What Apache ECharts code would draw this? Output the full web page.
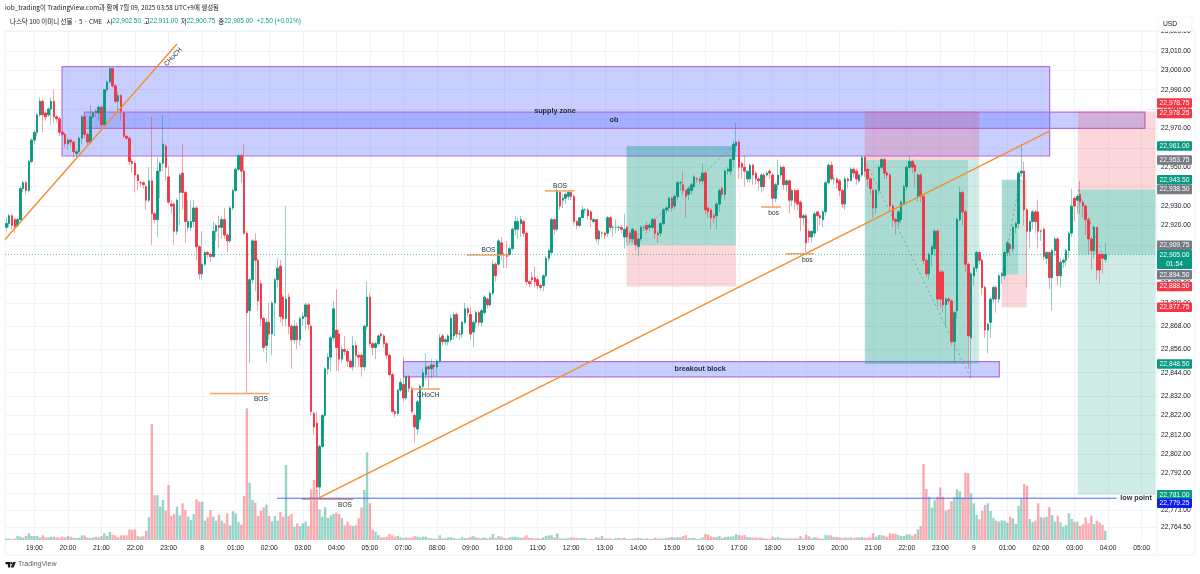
<!DOCTYPE html>
<html lang="ko">
<head>
<meta charset="utf-8">
<title>나스닥 100 이미니 선물</title>
<script src="https://cdn.jsdelivr.net/npm/echarts@6/dist/echarts.min.js"></script>
<style>
html, body { margin: 0; padding: 0; background: #fff; }
#chart { width: 1200px; height: 574px; }
</style>
</head>
<body>
<div id="chart"></div>
<script>
// 5 minute bars, one line per hour, first line starts at 18:10
var opens = [
22919,22921,22925,22923,22920,22923,22939,22942,22938,22953,
22964,22968,22977,22984,22978,22977,22980,22984,22976,22975,22968,22967,
22962,22964,22963,22957,22958,22965,22976,22967,22963,22976,22979,22978,
22981,22972,22990,22994,23001,22992,22984,22987,22978,22966,22965,22953,
22952,22946,22942,22942,22940,22933,22943,22926,22923,22948,22952,22961,
22945,22931,22931,22917,22937,22947,22937,22919,22919,22922,22929,22909,
22895,22900,22906,22905,22904,22917,22920,22919,22923,22915,22912,22929,
22938,22949,22956,22948,22916,22876,22892,22912,22902,22890,22872,22858,
22870,22864,22880,22892,22899,22883,22872,22883,22868,22861,22868,22861,
22872,22873,22879,22868,22823,22818,22785,22806,22822,22846,22852,22862,
22866,22864,22851,22856,22855,22850,22847,22858,22853,22853,22847,22868,
22883,22859,22857,22859,22864,22863,22859,22853,22843,22824,22823,22835,
22838,22831,22842,22836,22822,22815,22820,22837,22843,22847,22846,22848,
22847,22850,22863,22860,22860,22861,22863,22874,22864,22864,22870,22877,
22874,22865,22870,22875,22870,22875,22882,22879,22885,22900,22900,22911,
22905,22905,22905,22908,22918,22918,22921,22922,22916,22891,22893,22893,
22892,22889,22889,22894,22903,22906,22923,22918,22937,22933,22934,22935,
22937,22935,22922,22920,22924,22928,22928,22927,22922,22923,22913,22916,
22916,22916,22924,22919,22919,22919,22919,22914,22919,22916,22913,22917,
22909,22913,22919,22920,22919,22919,22923,22916,22916,22921,22928,22929,
22934,22930,22935,22942,22941,22938,22936,22938,22940,22944,22944,22943,
22947,22929,22928,22925,22925,22931,22939,22936,22948,22948,22954,22961,
22963,22952,22950,22944,22944,22951,22947,22944,22940,22946,22946,22948,
22946,22934,22941,22946,22950,22941,22943,22933,22938,22938,22932,22924,
22925,22917,22914,22916,22927,22925,22923,22927,22942,22951,22944,22944,
22943,22938,22931,22944,22943,22949,22948,22943,22946,22955,22949,22944,
22938,22929,22938,22950,22954,22947,22946,22930,22923,22922,22923,22931,
22940,22950,22953,22951,22935,22946,22935,22902,22895,22905,22908,22917,
22896,22896,22879,22882,22881,22860,22876,22923,22937,22927,22900,22862,
22894,22898,22906,22902,22888,22866,22870,22882,22888,22882,22894,22894,
22906,22910,22908,22919,22921,22947,22948,22928,22917,22922,22927,22927,
22917,22918,22903,22906,22893,22907,22913,22894,22901,22902,22907,22916,
22934,22933,22936,22932,22930,22923,22913,22907,22919,22905,22905,22902.5
];
var closes = [
22921,22925,22920,22919,22923,22939,22942,22938,22953,22964,
22968,22977,22984,22977,22976,22980,22984,22976,22975,22968,22967,22962,
22964,22963,22958,22958,22965,22976,22967,22963,22976,22978,22978,22981,
22972,22990,22994,23001,22992,22984,22987,22979,22966,22965,22953,22952,
22946,22943,22942,22941,22933,22943,22926,22923,22948,22952,22962,22950,
22932,22930,22917,22933,22946,22937,22922,22922,22922,22929,22909,22895,
22900,22906,22905,22904,22917,22920,22919,22923,22915,22912,22929,22938,
22949,22956,22948,22916,22875,22892,22912,22902,22881,22872,22857,22870,
22864,22880,22892,22898,22873,22872,22882,22868,22861,22868,22861,22872,
22873,22879,22869,22824,22816,22785,22806,22822,22846,22852,22862,22877,
22857,22851,22856,22855,22850,22847,22858,22853,22852,22847,22868,22883,
22859,22857,22859,22863,22863,22859,22853,22843,22824,22823,22835,22839,
22831,22842,22836,22824,22816,22829,22837,22844,22847,22846,22848,22847,
22850,22862,22860,22861,22863,22872,22874,22864,22864,22870,22877,22875,
22864,22870,22875,22870,22876,22883,22879,22885,22900,22894,22912,22905,
22905,22904,22908,22918,22922,22922,22923,22916,22891,22890,22892,22891,
22889,22888,22894,22903,22907,22923,22918,22938,22930,22934,22936,22937,
22935,22922,22920,22924,22928,22928,22925,22923,22923,22913,22917,22916,
22915,22924,22919,22919,22919,22919,22918,22918,22914,22913,22918,22910,
22913,22919,22919,22918,22920,22923,22916,22915,22921,22928,22929,22934,
22929,22935,22942,22942,22938,22935,22939,22941,22945,22944,22943,22947,
22928,22927,22924,22924,22931,22938,22936,22948,22949,22954,22962,22963,
22950,22950,22948,22948,22951,22946,22944,22943,22946,22940,22947,22947,
22934,22941,22946,22950,22941,22943,22933,22938,22932,22931,22924,22925,
22911,22914,22917,22926,22925,22924,22927,22942,22951,22944,22944,22942,
22938,22931,22944,22943,22949,22947,22944,22946,22955,22948,22944,22939,
22929,22938,22950,22954,22947,22946,22930,22923,22922,22927,22932,22940,
22950,22953,22950,22948,22946,22935,22902,22895,22905,22909,22917,22882,
22882,22879,22882,22881,22860,22875,22923,22937,22927,22900,22863,22895,
22898,22906,22902,22888,22866,22869,22882,22888,22882,22894,22895,22906,
22911,22908,22919,22921,22947,22948,22928,22917,22922,22927,22922,22917,
22917,22904,22906,22893,22907,22913,22894,22901,22902,22907,22916,22930,
22930,22935,22932,22930,22923,22913,22907,22919,22897,22897,22903,22905
];
var lows = [
22917,22919,22918,22916,22919,22922,22937,22936,22937,22952,
22962,22966,22976,22968,22974,22976,22972,22973,22973,22966,22966,22960,
22959,22961,22955,22955,22957,22962,22965,22961,22962,22975,22976,22974,
22971,22971,22989,22993,22991,22983,22978,22974,22965,22964,22951,22947,
22937,22938,22940,22939,22928,22932,22910,22921,22914,22934,22948,22943,
22931,22926,22910,22915,22920,22928,22911,22917,22917,22919,22902,22892,
22892,22899,22903,22901,22903,22912,22908,22913,22913,22906,22911,22928,
22937,22948,22942,22915,22833,22849,22890,22886,22876,22868,22855,22849,
22861,22853,22863,22888,22870,22868,22868,22864,22846,22859,22856,22858,
22868,22866,22866,22822,22812,22783,22780,22805,22821,22843,22845,22860,
22845,22845,22849,22853,22847,22846,22845,22847,22847,22842,22845,22866,
22857,22853,22851,22858,22861,22857,22851,22842,22823,22821,22822,22834,
22829,22830,22834,22823,22808,22812,22818,22836,22840,22836,22841,22842,
22842,22849,22858,22858,22858,22860,22861,22862,22861,22862,22869,22873,
22861,22857,22867,22868,22868,22874,22877,22878,22884,22891,22899,22902,
22898,22898,22904,22907,22915,22913,22914,22914,22889,22888,22889,22888,
22887,22886,22886,22893,22901,22905,22915,22917,22928,22929,22931,22933,
22933,22920,22918,22919,22924,22926,22923,22919,22921,22911,22910,22914,
22913,22914,22917,22914,22916,22917,22916,22908,22911,22911,22911,22907,
22904,22912,22917,22916,22917,22918,22913,22911,22914,22920,22926,22927,
22927,22928,22933,22938,22936,22924,22933,22936,22939,22942,22941,22941,
22926,22924,22918,22921,22918,22927,22934,22933,22946,22946,22950,22958,
22944,22944,22940,22942,22942,22941,22941,22938,22937,22938,22945,22944,
22929,22932,22938,22944,22938,22937,22926,22930,22928,22928,22917,22920,
22906,22911,22911,22914,22917,22920,22919,22925,22941,22943,22941,22939,
22935,22929,22928,22939,22943,22945,22941,22942,22945,22945,22940,22936,
22924,22926,22936,22949,22944,22944,22928,22919,22915,22919,22921,22930,
22938,22949,22947,22940,22932,22932,22900,22893,22892,22899,22904,22878,
22878,22875,22868,22879,22858,22849,22872,22922,22920,22896,22846,22841,
22889,22896,22900,22884,22862,22854,22862,22880,22875,22880,22890,22892,
22904,22904,22906,22916,22918,22945,22920,22888,22908,22918,22916,22908,
22912,22902,22900,22887,22876,22904,22889,22888,22898,22899,22903,22914,
22922,22926,22926,22924,22915,22905,22897,22903,22892,22890,22895,22900.75
];
var highs = [
22924,22926,22926,22924,22924,22940,22943,22943,22954,22965,
22969,22978,22986,22985,22979,22981,22986,22990,22977,22976,22969,22968,
22965,22965,22964,22959,22966,22977,22977,22968,22982,22979,22980,22982,
22982,22990,22995,23001.5,23001,22993,22989,22988,22979,22967,22966,22954,
22953,22947,22943,22943,22941,22950,22976,22927,22955,22953,22977,22962,
22951,22933,22932,22934,22947,22962,22938,22933,22933,22933,22930,22910,
22917,22907,22907,22906,22922,22921,22925,22925,22929,22916,22930,22939,
22950,22957,22957,22962,22917,22893,22913,22916,22903,22892,22873,22872,
22880,22881,22893,22903,22902,22884,22930,22885,22869,22871,22870,22873,
22875,22880,22880,22869,22824,22824,22807,22823,22847,22854,22863,22881,
22887,22866,22858,22863,22856,22851,22863,22860,22854,22854,22869,22891,
22885,22860,22860,22864,22865,22864,22860,22854,22844,22825,22836,22841,
22852,22843,22843,22837,22823,22830,22838,22846,22854,22848,22851,22849,
22851,22864,22864,22862,22864,22874,22875,22875,22866,22871,22880,22878,
22878,22871,22876,22876,22877,22884,22883,22886,22902,22901,22913,22914,
22906,22912,22909,22919,22925,22924,22925,22923,22917,22892,22896,22899,
22893,22890,22895,22904,22908,22924,22924,22939,22938,22936,22937,22938,
22938,22936,22923,22922,22930,22929,22929,22928,22924,22923,22918,22917,
22917,22925,22925,22920,22923,22920,22920,22926,22920,22917,22919,22918,
22914,22920,22920,22922,22921,22924,22924,22917,22922,22929,22930,22935,
22935,22936,22943,22943,22948,22938,22940,22942,22946,22945,22945,22952,
22948,22930,22929,22926,22932,22939,22940,22949,22950,22955,22964,22973,
22964,22953,22956,22948,22952,22952,22948,22945,22947,22947,22948,22949,
22947,22942,22954,22951,22951,22944,22944,22939,22939,22939,22933,22926,
22926,22918,22917,22927,22927,22926,22928,22943,22952,22953,22946,22945,
22944,22939,22945,22945,22950,22950,22949,22947,22956,22956,22950,22945,
22939,22939,22951,22955,22955,22948,22947,22931,22924,22928,22933,22941,
22951,22956,22954,22952,22947,22947,22936,22903,22906,22910,22918,22918,
22897,22897,22883,22883,22882,22876,22924,22940,22938,22928,22901,22896,
22899,22907,22907,22903,22889,22870,22883,22889,22889,22895,22896,22907,
22912,22911,22920,22922,22948,22962,22953,22929,22923,22928,22928,22933,
22918,22919,22907,22907,22908,22914,22914,22903,22903,22908,22917,22939,
22935,22936,22943,22933,22931,22924,22914,22920,22919,22906,22906,22911
];
var volumes = [
4,4,3,4,12,10,7,12,20,12,
12,12,8,14,8,8,10,10,8,7,10,8,
12,10,7,6,7,14,14,8,6,8,10,8,
12,20,12,24,16,14,8,14,14,14,32,30,
32,12,10,12,28,68,348,134,135,100,120,88,
165,72,78,100,74,110,90,70,60,78,122,115,
115,58,68,90,70,58,76,58,50,80,44,86,
80,54,46,132,395,172,120,112,72,88,98,106,
72,56,72,58,84,70,225,72,78,40,50,42,
50,55,42,152,180,150,92,70,98,66,74,78,
82,78,66,44,55,44,42,44,65,98,150,263,
110,30,25,15,8,8,10,18,14,10,12,8,
6,8,6,8,12,10,8,10,10,6,5,4,
4,14,5,5,8,8,6,4,5,8,6,6,
10,12,8,6,6,8,5,8,18,6,12,10,
6,5,8,10,10,8,6,8,14,6,6,4,
6,4,8,12,14,14,8,20,5,4,5,6,
8,7,6,5,6,5,3,3,3,8,6,12,
4,5,5,3,5,6,5,7,3,3,4,5,
6,5,4,5,3,3,7,5,5,4,6,7,
9,7,9,8,12,14,6,6,6,3,4,8,
18,16,11,9,9,12,6,9,10,10,11,18,
15,13,15,9,8,7,8,7,7,5,4,4,
10,7,8,6,5,5,5,4,5,5,12,5,
16,11,5,9,7,5,4,15,14,14,9,9,
8,6,8,7,8,6,8,8,9,7,7,8,
20,10,15,15,13,10,20,19,19,15,12,12,
17,17,13,18,32,42,228,153,130,97,120,130,
158,130,88,92,117,128,152,146,128,202,200,140,
110,75,62,88,105,110,87,67,58,55,59,58,
52,70,65,48,102,125,168,163,63,54,58,110,
68,67,70,98,75,55,73,53,40,45,80,63,
55,55,42,47,68,50,73,48,58,52,45,28
];

// x axis
var hourLabels = ['19:00','20:00','21:00','22:00','23:00','8','01:00','02:00','03:00','04:00','05:00',
    '07:00','08:00','09:00','10:00','11:00','12:00','13:00','14:00','15:00','16:00','17:00','18:00',
    '19:00','20:00','21:00','22:00','23:00','9','01:00','02:00','03:00','04:00','05:00'];
var firstHourBar = 10, barsPerHour = 12, slotCount = 412;

// price axis
var priceTicks = [23020,23010,23000,22990,22980,22970,22960,22950,22940,22930,22920,22910,22900,22890,22880,
    22868,22856,22844,22832,22822,22812,22802,22792,22782,22773,22764.5];

// drawings, x in bars and y in price
var zoneRows = [
    [19.9, 373.1, 23001.9, 22955.8],
    [27.9, 407.2, 22978.4, 22970.1],
    [142, 355.1, 22849.7, 22841.9],
    [221.8, 260.9, 22961, 22909.75],
    [221.8, 260.9, 22909.75, 22888.5],
    [307, 343.9, 22953.75, 22848.5],
    [343.9, 347.9, 22953.75, 22848.5],
    [307, 347.9, 22978.75, 22953.75],
    [356, 361.8, 22943.5, 22894.5],
    [361.8, 364.9, 22943.5, 22894.5],
    [356, 364.9, 22894.5, 22877.75],
    [383.2, 411, 22978.75, 22938.5],
    [383.2, 411, 22938.5, 22905],
    [383.2, 411, 22905, 22781]
];
var zoneKinds = ['zone','zone','zone','win','loss','win','winLight','loss','win','winLight','loss','loss','win','winLight'];

var lineRows = [
    [-0.5, 22912.7, 61, 23013.6],
    [111.8, 22779.4, 373.1, 22968.7],
    [72.8, 22833.3, 93.9, 22833.3],
    [105.7, 22778.8, 124, 22778.8],
    [144.7, 22835.6, 155, 22835.6],
    [164.7, 22904.7, 180, 22904.7],
    [192.6, 22937.8, 203, 22937.8],
    [269.9, 22929.5, 277, 22929.5],
    [278.8, 22905.4, 288.8, 22905.4],
    [96.8, 22779.25, 397, 22779.25],
    [-0.5, 22905, 411.5, 22905],
    [221.8, 22909.75, 260, 22961],
    [307, 22953.75, 345, 22841],
    [356, 22894.5, 363, 22947],
    [383.2, 22938.5, 392, 22905]
];
var lineKinds = ['trend','trend','level','level','level','level','level','level','level','low','last','path','path','path','path'];

var noteTexts = ['supply zone','ob','breakout block','BOS','BOS','CHoCH','BOS','BOS','bos','bos','low point','CHoCH'];
var noteBars = [196.2, 217.3, 248.1, 91, 121.1, 150.8, 172.4, 198, 274.4, 286.4, 404, 59.6];
var notePrices = [22979, 22974.4, 22845.9, 22830.4, 22775.7, 22832.5, 22907.3, 22940.5, 22926.4, 22902.2, 22779.3, 23006.9];
var noteAngles = [0, 0, 0, 0, 0, 0, 0, 0, 0, 0, 0, 47];

// price tags on the axis, nudge keeps them from covering each other
var tagPrices = [22978.75,22978.25,22961,22953.75,22943.5,22938.5,22909.75,22905,22894.5,22888.5,22877.75,22848.5,22781,22779.25];
var tagTexts = ['22,978.75','22,978.25','22,961.00','22,953.75','22,943.50','22,938.50','22,909.75','22,905.00\n01:54',
    '22,894.50','22,888.50','22,877.75','22,848.50','22,781.00','22,779.25'];
var tagColors = ['#F23645','#F23645','#089981','#787B86','#089981','#787B86','#787B86','#089981','#787B86','#F23645','#F23645','#089981','#089981','#0D1BF5'];
var tagNudges = [-8.5,1,0,0,0,0,0,5,0,0,0,0,0,5];

var GREEN = '#089981', RED = '#F23645';
var zoneStyles = {
    zone: { fill: 'rgba(88,110,255,0.33)', stroke: '#B56FDB', lineWidth: 1.2 },
    win: { fill: 'rgba(8,153,129,0.35)' },
    winLight: { fill: 'rgba(8,153,129,0.2)' },
    loss: { fill: 'rgba(242,54,69,0.2)' }
};
var lineStyles = {
    trend: { stroke: '#F68D2E', lineWidth: 1.4 },
    level: { stroke: '#F5A562', lineWidth: 1.6 },
    low: { stroke: '#4A66FF', lineWidth: 1 },
    last: { stroke: 'rgba(8,153,129,0.6)', lineWidth: 1, lineDash: [1, 2] },
    path: { stroke: 'rgba(120,123,134,0.65)', lineWidth: 1, lineDash: [2, 3] }
};

var categories = [];
for (var i = 0; i < slotCount; i++) {
    var k = (i - firstHourBar) / barsPerHour;
    categories.push(k >= 0 && k === Math.floor(k) ? hourLabels[k] : '');
}
var hourBars = [];
for (var h = 0; h < hourLabels.length; h++) hourBars.push(firstHourBar + h * barsPerHour);

var wickData = [], bodyData = [], volumeData = [];
for (var n = 0; n < closes.length; n++) {
    var isUp = closes[n] >= opens[n];
    wickData.push([opens[n], closes[n], lows[n], highs[n]]);
    bodyData.push([opens[n], closes[n], Math.min(opens[n], closes[n]), Math.max(opens[n], closes[n])]);
    volumeData.push({
        value: volumes[n],
        itemStyle: { color: isUp ? 'rgba(8,153,129,0.42)' : 'rgba(242,54,69,0.42)' }
    });
}

function renderZone(params, api) {
    var a = api.coord([api.value(0), api.value(2)]);
    var b = api.coord([api.value(1), api.value(3)]);
    var s = zoneStyles[zoneKinds[params.dataIndex]];
    return {
        type: 'rect',
        shape: { x: a[0], y: a[1], width: b[0] - a[0], height: b[1] - a[1] },
        style: { fill: s.fill, stroke: s.stroke || null, lineWidth: s.lineWidth || 0 }
    };
}

function renderLine(params, api) {
    var a = api.coord([api.value(0), api.value(1)]);
    var b = api.coord([api.value(2), api.value(3)]);
    var s = lineStyles[lineKinds[params.dataIndex]];
    return {
        type: 'line',
        shape: { x1: a[0], y1: a[1], x2: b[0], y2: b[1] },
        style: { stroke: s.stroke, lineWidth: s.lineWidth, lineDash: s.lineDash || null, fill: null }
    };
}

function renderNote(params, api) {
    var p = api.coord([api.value(0), api.value(1)]);
    var idx = params.dataIndex;
    var strong = idx < 3 || idx === 10;
    return {
        type: 'text',
        x: p[0],
        y: p[1],
        rotation: noteAngles[idx] * Math.PI / 180,
        style: {
            text: noteTexts[idx],
            align: 'center',
            verticalAlign: 'middle',
            font: (strong ? 'bold 7.2px' : '6.6px') + ' "Liberation Sans", Arial, sans-serif',
            fill: '#1E2A33'
        }
    };
}

function renderTag(params, api) {
    var p = api.coord([0, api.value(0)]);
    var idx = params.dataIndex;
    var twoRows = tagTexts[idx].indexOf('\n') > 0;
    var boxH = twoRows ? 19 : 9.5;
    var mid = p[1] + tagNudges[idx];
    return {
        type: 'group',
        children: [{
            type: 'rect',
            shape: { x: 1157, y: mid - boxH / 2, width: 35, height: boxH, r: 1 },
            style: { fill: tagColors[idx] }
        }, {
            type: 'text',
            x: 1174.5,
            y: mid,
            style: {
                text: tagTexts[idx],
                align: 'center',
                verticalAlign: 'middle',
                lineHeight: 9.5,
                font: '6.7px "Liberation Sans", Arial, sans-serif',
                fill: '#fff'
            }
        }]
    };
}

var chart = echarts.init(document.getElementById('chart'));
chart.setOption({
    animation: false,
    backgroundColor: '#fff',
    grid: { left: 5, right: 43, top: 31, bottom: 34, containLabel: false, show: false },
    xAxis: [{
        type: 'category',
        data: categories,
        boundaryGap: true,
        axisLine: { show: false },
        axisTick: { show: false },
        splitLine: { show: false },
        axisLabel: {
            interval: 0,
            margin: 5,
            hideOverlap: false,
            color: '#131722',
            fontSize: 6.7,
            fontFamily: '"Liberation Sans", Arial, sans-serif'
        }
    }, {
        type: 'value',
        min: -0.5,
        max: slotCount - 0.5,
        show: true,
        axisLine: { show: false },
        axisLabel: { show: false },
        axisTick: { show: false, customValues: hourBars },
        splitLine: { show: true, lineStyle: { color: '#F0F3FA', width: 1 } }
    }],
    yAxis: [{
        type: 'value',
        position: 'right',
        min: 22757.7,
        max: 23020.3,
        axisLine: { show: false },
        axisTick: { show: false, customValues: priceTicks },
        splitLine: { show: true, lineStyle: { color: '#F0F3FA', width: 1 } },
        axisLabel: {
            customValues: priceTicks,
            margin: 4,
            color: '#131722',
            fontSize: 6.7,
            fontFamily: '"Liberation Sans", Arial, sans-serif',
            showMinLabel: true,
            showMaxLabel: true,
            formatter: function (v) {
                return v.toLocaleString('en-US', { minimumFractionDigits: 2, maximumFractionDigits: 2 });
            }
        }
    }, {
        // volume pane shares the plot
        type: 'value',
        min: 0,
        max: 1527,
        show: false
    }],
    series: [{
        type: 'custom',
        name: 'zones',
        xAxisIndex: 1,
        yAxisIndex: 0,
        z: 1,
        renderItem: renderZone,
        encode: { x: [0, 1], y: [2, 3] },
        data: zoneRows
    }, {
        type: 'bar',
        name: 'volume',
        xAxisIndex: 0,
        yAxisIndex: 1,
        barWidth: 2.4,
        z: 2,
        data: volumeData
    }, {
        type: 'candlestick',
        name: 'wicks',
        xAxisIndex: 0,
        yAxisIndex: 0,
        barWidth: 1,
        z: 3,
        itemStyle: {
            color: 'rgba(8,153,129,0.45)',
            color0: 'rgba(242,54,69,0.45)',
            borderColor: 'rgba(8,153,129,0.45)',
            borderColor0: 'rgba(242,54,69,0.45)',
            borderWidth: 1
        },
        data: wickData
    }, {
        type: 'candlestick',
        name: 'bodies',
        xAxisIndex: 0,
        yAxisIndex: 0,
        barWidth: 2,
        z: 4,
        itemStyle: {
            color: GREEN,
            color0: RED,
            borderColor: GREEN,
            borderColor0: RED,
            borderWidth: 0.9
        },
        data: bodyData
    }, {
        type: 'custom',
        name: 'lines',
        xAxisIndex: 1,
        yAxisIndex: 0,
        z: 5,
        renderItem: renderLine,
        encode: { x: [0, 2], y: [1, 3] },
        data: lineRows
    }, {
        type: 'custom',
        name: 'notes',
        xAxisIndex: 1,
        yAxisIndex: 0,
        z: 6,
        renderItem: renderNote,
        encode: { x: 0, y: 1 },
        data: noteBars.map(function (b, idx) { return [b, notePrices[idx]]; })
    }, {
        type: 'custom',
        name: 'tags',
        xAxisIndex: 1,
        yAxisIndex: 0,
        z: 20,
        renderItem: renderTag,
        encode: { y: 0 },
        data: tagPrices.map(function (p) { return [p]; })
    }],
    graphic: [
        // outer frame and the pane edges
        { type: 'rect', z: 0, shape: { x: 5, y: 31, width: 1190, height: 524 }, style: { fill: null, stroke: '#EEF0F5', lineWidth: 1 } },
        { type: 'line', z: 0, shape: { x1: 1157, y1: 31, x2: 1157, y2: 555 }, style: { stroke: '#EEF0F5', lineWidth: 1 } },
        // header
        { type: 'text', x: 5, y: 4, style: {
            text: 'iob_trading이 TradingView.com과 함께 7월 09, 2025 03:58 UTC+9에 생성됨',
            font: '6.45px "Noto Sans CJK KR", "Liberation Sans", sans-serif', fill: '#131722' } },
        { type: 'text', x: 10, y: 18, style: {
            text: '{a|나스닥 100 이미니 선물 · 5 · CME   시}{v|22,902.50}{a|  고}{v|22,911.00}{a|  저}{v|22,900.75}{a|  종}{v|22,905.00}{v|  +2.50 (+0.01%)}',
            font: '6.45px "Noto Sans CJK KR", "Liberation Sans", sans-serif',
            rich: {
                a: { fill: '#131722', font: '6.45px "Noto Sans CJK KR", sans-serif' },
                v: { fill: '#089981', font: '6.45px "Liberation Sans", sans-serif' }
            } } },
        // currency box
        { type: 'rect', z: 30, shape: { x: 1158, y: 17, width: 34, height: 14, r: 2 }, style: { fill: '#fff', stroke: '#F0F3FA', lineWidth: 1 } },
        { type: 'text', z: 31, x: 1163, y: 21, style: { text: 'USD', font: '6.7px "Liberation Sans", sans-serif', fill: '#131722' } },
        // footer mark
        { type: 'polygon', shape: { points: [[5.5, 562], [10.2, 562], [10.2, 567.6], [7.9, 567.6], [7.9, 564.3], [5.5, 564.3]] }, style: { fill: '#131722' } },
        { type: 'circle', shape: { cx: 11.3, cy: 563.2, r: 1.1 }, style: { fill: '#131722' } },
        { type: 'polygon', shape: { points: [[13, 562], [15.9, 562], [13.5, 567.6], [10.8, 567.6]] }, style: { fill: '#131722' } },
        { type: 'text', x: 18, y: 561, style: { text: 'TradingView', font: '7px "Liberation Sans", sans-serif', fill: '#5A5E6A' } }
    ]
});
</script>
</body>
</html>
